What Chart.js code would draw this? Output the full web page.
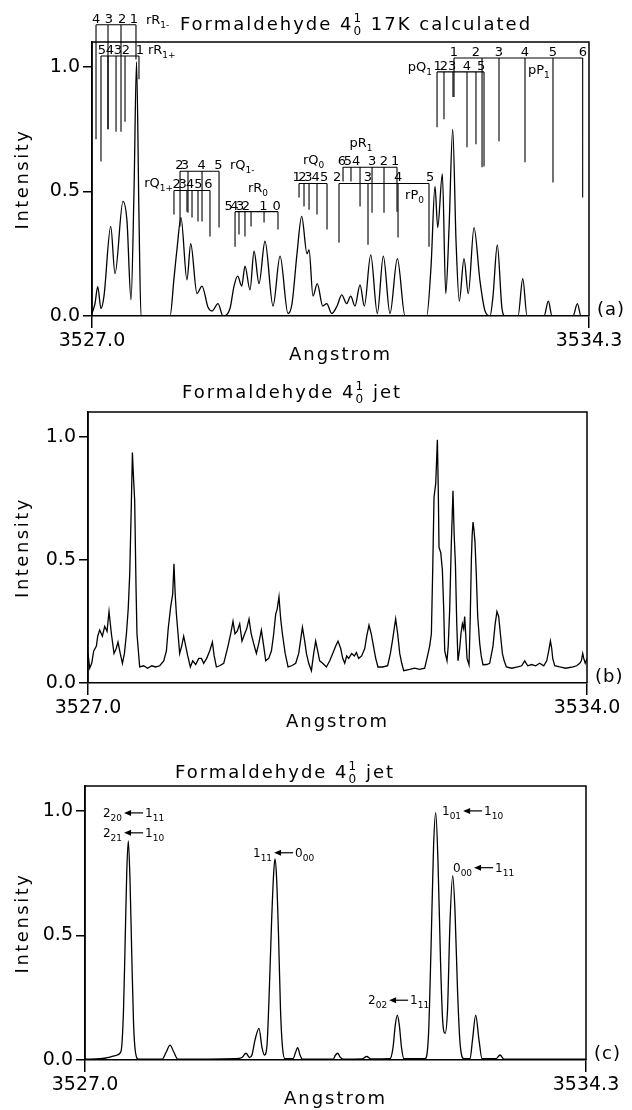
<!DOCTYPE html>
<html lang="en">
<head>
<meta charset="utf-8">
<title>Formaldehyde 4 1 0 spectra</title>
<script src="https://cdn.jsdelivr.net/npm/chart.js@4"></script>
<style>
  html, body { margin: 0; background: #fff; }
  .page { position: relative; width: 632px; height: 1110px; }
  .panel { position: absolute; left: 0; width: 632px; }
</style>
</head>
<body>
<div class="page">
  <div class="panel" style="top:0; height:372px;"><canvas id="calcChart"></canvas></div>
  <div class="panel" style="top:372px; height:378px;"><canvas id="jetChart"></canvas></div>
  <div class="panel" style="top:750px; height:360px;"><canvas id="simChart"></canvas></div>
</div>
<script>
// Axis ranges (Angstrom) and intensity ticks
const calcRange = [3527.0, 3534.3];
const jetRange = [3527.0, 3534.0];
const simRange = [3527.0, 3534.3];
const intensityTicks = [0.0, 0.5, 1.0];

// (a) 17K calculated spectrum
const calcX = [3527.000, 3527.044, 3527.084, 3527.132, 3527.176, 3527.275, 3527.338, 3527.455, 3527.514, 3527.573,
  3527.617, 3527.654, 3527.690, 3527.720, 3528.146, 3528.204, 3528.249, 3528.307, 3528.395, 3528.450,
  3528.542, 3528.616, 3528.704, 3528.763, 3528.851, 3528.924, 3529.027, 3529.086, 3529.140, 3529.199,
  3529.247, 3529.321, 3529.380, 3529.453, 3529.541, 3529.659, 3529.762, 3529.879, 3529.938, 3530.011,
  3530.080, 3530.158, 3530.188, 3530.246, 3530.309, 3530.389, 3530.448, 3530.521, 3530.599, 3530.668,
  3530.741, 3530.800, 3530.863, 3530.937, 3531.000, 3531.094, 3531.191, 3531.279, 3531.377, 3531.485,
  3531.598, 3531.916, 3531.980, 3532.038, 3532.078, 3532.146, 3532.196, 3532.244, 3532.298, 3532.347,
  3532.395, 3532.464, 3532.527, 3532.611, 3532.699, 3532.773, 3532.846, 3532.890, 3532.953, 3533.022,
  3533.067, 3533.258, 3533.327, 3533.390, 3533.639, 3533.703, 3533.757, 3534.065, 3534.129, 3534.183,
  3534.300];
const calcY = [0.01, 0.05, 0.118, 0.03, 0.08, 0.36, 0.17, 0.46, 0.38, 0.065,
  0.5, 1.02, 0.4, 0.0, 0.0, 0.15, 0.27, 0.395, 0.145, 0.29,
  0.09, 0.12, 0.035, 0.02, 0.05, 0.0, 0.03, 0.12, 0.16, 0.12,
  0.2, 0.105, 0.26, 0.13, 0.30, 0.04, 0.24, 0.01, 0.05, 0.25,
  0.40, 0.25, 0.265, 0.08, 0.13, 0.04, 0.05, 0.01, 0.04, 0.085,
  0.05, 0.08, 0.04, 0.125, 0.04, 0.245, 0.01, 0.24, 0.01, 0.23,
  0.0, 0.0, 0.2, 0.52, 0.355, 0.57, 0.09, 0.35, 0.75, 0.3,
  0.06, 0.23, 0.09, 0.355, 0.14, 0.02, 0.0, 0.08, 0.285, 0.03,
  0.0, 0.0, 0.15, 0.0, 0.0, 0.06, 0.0, 0.0, 0.05, 0.0,
  0.0];

// (a) line assignments: stick positions, stick ends, numbers and where the numbers sit
const rR1mPos = [3527.059, 3527.235, 3527.426, 3527.646];
const rR1mEnd = [0.71, 0.75, 0.74, 1.03];
const rR1mNum = ['4', '3', '2', '1'];
const rR1mAt = [3527.059, 3527.249, 3527.441, 3527.617];

const rR1pPos = [3527.132, 3527.235, 3527.353, 3527.485, 3527.690];
const rR1pEnd = [0.62, 0.75, 0.74, 0.78, 0.95];
const rR1pNum = ['5', '4', '3', '2', '1'];
const rR1pAt = [3527.147, 3527.264, 3527.382, 3527.499, 3527.705];

const rQ1pPos = [3528.204, 3528.395, 3528.469, 3528.557, 3528.733];
const rQ1pEnd = [0.407, 0.419, 0.395, 0.379, 0.319];
const rQ1pNum = ['2', '3', '4', '5', '6'];
const rQ1pAt = [3528.244, 3528.332, 3528.440, 3528.561, 3528.708];

const rQ1mPos = [3528.293, 3528.410, 3528.616, 3528.866];
const rQ1mEnd = [0.359, 0.415, 0.379, 0.355];
const rQ1mNum = ['2', '3', '4', '5'];
const rQ1mAt = [3528.283, 3528.366, 3528.611, 3528.856];

const rR0Pos = [3529.101, 3529.159, 3529.247, 3529.336, 3529.527, 3529.732];
const rR0End = [0.278, 0.327, 0.319, 0.359, 0.375, 0.347];
const rR0Num = ['5', '4', '3', '2', '1', '0'];
const rR0At = [3529.008, 3529.090, 3529.174, 3529.262, 3529.516, 3529.712];

const rQ0Pos = [3530.041, 3530.114, 3530.188, 3530.305, 3530.452];
const rQ0End = [0.476, 0.440, 0.427, 0.407, 0.347];
const rQ0Num = ['1', '2', '3', '4', '5'];
const rQ0At = [3530.007, 3530.089, 3530.177, 3530.283, 3530.408];

const pR1Pos = [3530.687, 3530.804, 3530.937, 3531.113, 3531.289, 3531.480];
const pR1End = [0.54, 0.54, 0.44, 0.415, 0.415, 0.419];
const pR1Num = ['6', '5', '4', '3', '2', '1'];
const pR1At = [3530.672, 3530.760, 3530.878, 3531.113, 3531.289, 3531.451];

const rP0Pos = [3530.628, 3531.054, 3531.495, 3531.950];
const rP0End = [0.294, 0.286, 0.315, 0.278];
const rP0Num = ['2', '3', '4', '5'];
const rP0At = [3530.599, 3531.054, 3531.495, 3531.965];

const pQ1Pos = [3532.068, 3532.170, 3532.302, 3532.508, 3532.640, 3532.758];
const pQ1End = [0.758, 0.79, 0.879, 0.677, 0.69, 0.6];
const pQ1Num = ['1', '2', '3', '4', '5'];
const pQ1At = [3532.078, 3532.170, 3532.288, 3532.508, 3532.714];

const pP1Pos = [3532.317, 3532.729, 3532.978, 3533.360, 3533.771, 3534.207];
const pP1End = [0.879, 0.597, 0.702, 0.617, 0.536, 0.476];
const pP1Num = ['1', '2', '3', '4', '5', '6'];
const pP1At = [3532.317, 3532.640, 3532.978, 3533.360, 3533.771, 3534.212];

// (b) jet spectrum
const jetX = [3527.000, 3527.024, 3527.052, 3527.080, 3527.118, 3527.136, 3527.164, 3527.202, 3527.234, 3527.267,
  3527.295, 3527.328, 3527.365, 3527.396, 3527.421, 3527.452, 3527.483, 3527.511, 3527.539, 3527.564,
  3527.585, 3527.606, 3527.623, 3527.634, 3527.655, 3527.673, 3527.687, 3527.725, 3527.781, 3527.837,
  3527.894, 3527.950, 3528.006, 3528.062, 3528.100, 3528.125, 3528.160, 3528.188, 3528.206, 3528.223,
  3528.240, 3528.263, 3528.286, 3528.314, 3528.342, 3528.371, 3528.399, 3528.436, 3528.469, 3528.511,
  3528.553, 3528.591, 3528.623, 3528.665, 3528.707, 3528.745, 3528.770, 3528.801, 3528.847, 3528.904,
  3528.964, 3529.002, 3529.034, 3529.062, 3529.093, 3529.128, 3529.160, 3529.198, 3529.226, 3529.259,
  3529.289, 3529.324, 3529.362, 3529.395, 3529.432, 3529.465, 3529.493, 3529.535, 3529.573, 3529.605,
  3529.633, 3529.654, 3529.679, 3529.703, 3529.727, 3529.766, 3529.806, 3529.857, 3529.914, 3529.956,
  3530.008, 3530.040, 3530.064, 3530.096, 3530.134, 3530.166, 3530.194, 3530.222, 3530.250, 3530.292,
  3530.344, 3530.391, 3530.433, 3530.475, 3530.507, 3530.545, 3530.573, 3530.601, 3530.629, 3530.657,
  3530.699, 3530.737, 3530.765, 3530.797, 3530.839, 3530.882, 3530.910, 3530.942, 3530.973, 3530.998,
  3531.036, 3531.068, 3531.134, 3531.204, 3531.242, 3531.270, 3531.295, 3531.316, 3531.344, 3531.373,
  3531.401, 3531.429, 3531.513, 3531.583, 3531.653, 3531.723, 3531.755, 3531.793, 3531.817, 3531.835,
  3531.854, 3531.878, 3531.901, 3531.913, 3531.924, 3531.948, 3531.971, 3531.990, 3532.004, 3532.036,
  3532.053, 3532.074, 3532.095, 3532.120, 3532.137, 3532.154, 3532.172, 3532.190, 3532.214, 3532.232,
  3532.252, 3532.270, 3532.284, 3532.298, 3532.317, 3532.345, 3532.361, 3532.378, 3532.389, 3532.401,
  3532.415, 3532.429, 3532.446, 3532.467, 3532.495, 3532.516, 3532.541, 3532.593, 3532.635, 3532.681,
  3532.712, 3532.737, 3532.761, 3532.785, 3532.813, 3532.838, 3532.869, 3532.944, 3533.028, 3533.084,
  3533.126, 3533.168, 3533.224, 3533.280, 3533.336, 3533.393, 3533.435, 3533.463, 3533.487, 3533.505,
  3533.519, 3533.547, 3533.617, 3533.701, 3533.804, 3533.855, 3533.898, 3533.921, 3533.940, 3533.954,
  3533.975, 3534.000];
const jetY = [0.12, 0.06, 0.08, 0.13, 0.15, 0.19, 0.215, 0.19, 0.23, 0.21,
  0.29, 0.2, 0.12, 0.14, 0.166, 0.12, 0.08, 0.12, 0.2, 0.3,
  0.44, 0.7, 0.936, 0.86, 0.74, 0.4, 0.2, 0.065, 0.07, 0.06,
  0.07, 0.065, 0.07, 0.09, 0.13, 0.22, 0.31, 0.36, 0.484, 0.36,
  0.28, 0.2, 0.12, 0.15, 0.19, 0.15, 0.11, 0.065, 0.09, 0.075,
  0.1, 0.1, 0.08, 0.1, 0.13, 0.166, 0.11, 0.065, 0.07, 0.08,
  0.15, 0.2, 0.25, 0.2, 0.21, 0.24, 0.17, 0.2, 0.22, 0.26,
  0.2, 0.16, 0.12, 0.16, 0.215, 0.15, 0.09, 0.1, 0.13, 0.2,
  0.28, 0.3, 0.35, 0.26, 0.2, 0.12, 0.065, 0.07, 0.08, 0.12,
  0.226, 0.17, 0.12, 0.08, 0.05, 0.12, 0.17, 0.13, 0.09, 0.08,
  0.065, 0.09, 0.12, 0.15, 0.17, 0.14, 0.1, 0.08, 0.11, 0.1,
  0.12, 0.11, 0.124, 0.1, 0.11, 0.14, 0.19, 0.235, 0.2, 0.16,
  0.1, 0.065, 0.065, 0.07, 0.12, 0.17, 0.22, 0.26, 0.2, 0.12,
  0.08, 0.05, 0.055, 0.06, 0.055, 0.06, 0.1, 0.15, 0.2, 0.45,
  0.754, 0.81, 0.987, 0.8, 0.55, 0.53, 0.46, 0.3, 0.13, 0.09,
  0.15, 0.3, 0.55, 0.78, 0.6, 0.484, 0.25, 0.09, 0.14, 0.2,
  0.24, 0.22, 0.27, 0.2, 0.1, 0.074, 0.25, 0.5, 0.6, 0.653,
  0.62, 0.57, 0.45, 0.27, 0.16, 0.11, 0.074, 0.075, 0.08, 0.15,
  0.24, 0.29, 0.27, 0.2, 0.12, 0.09, 0.065, 0.06, 0.065, 0.07,
  0.09, 0.07, 0.075, 0.07, 0.08, 0.07, 0.09, 0.13, 0.17, 0.14,
  0.1, 0.07, 0.065, 0.06, 0.065, 0.07, 0.08, 0.09, 0.12, 0.1,
  0.08, 0.1];

// (c) jet simulation
const simX = [3527.000, 3527.219, 3527.364, 3527.466, 3527.525, 3527.561, 3527.583, 3527.608, 3527.631, 3527.656,
  3527.680, 3527.707, 3527.736, 3527.780, 3528.122, 3528.180, 3528.239, 3528.297, 3528.355, 3529.186,
  3529.288, 3529.346, 3529.397, 3529.433, 3529.477, 3529.535, 3529.579, 3529.615, 3529.652, 3529.688,
  3529.718, 3529.747, 3529.768, 3529.790, 3529.820, 3529.849, 3529.878, 3529.914, 3530.031, 3530.067,
  3530.099, 3530.133, 3530.169, 3530.614, 3530.650, 3530.682, 3530.716, 3530.759, 3531.036, 3531.105,
  3531.167, 3531.444, 3531.488, 3531.521, 3531.551, 3531.580, 3531.612, 3531.648, 3531.954, 3532.005,
  3532.042, 3532.078, 3532.110, 3532.143, 3532.180, 3532.209, 3532.246, 3532.282, 3532.318, 3532.358,
  3532.391, 3532.428, 3532.464, 3532.522, 3532.610, 3532.646, 3532.693, 3532.741, 3532.785, 3532.989,
  3533.047, 3533.105, 3534.300];
const simY = [0.003, 0.005, 0.012, 0.02, 0.035, 0.2, 0.45, 0.75, 0.88, 0.72,
  0.44, 0.15, 0.03, 0.003, 0.003, 0.03, 0.06, 0.03, 0.003, 0.005,
  0.01, 0.027, 0.01, 0.02, 0.08, 0.127, 0.05, 0.02, 0.06, 0.3,
  0.55, 0.74, 0.807, 0.74, 0.5, 0.2, 0.05, 0.005, 0.005, 0.03,
  0.05, 0.02, 0.003, 0.003, 0.02, 0.027, 0.012, 0.003, 0.004, 0.014,
  0.004, 0.005, 0.05, 0.14, 0.18, 0.14, 0.05, 0.005, 0.005, 0.1,
  0.45, 0.85, 0.993, 0.8, 0.4, 0.17, 0.107, 0.2, 0.55, 0.74,
  0.6, 0.28, 0.07, 0.005, 0.005, 0.08, 0.18, 0.08, 0.005, 0.005,
  0.02, 0.003, 0.003];

// (c) rotational assignments
const simLabelX = [3527.262, 3527.262, 3529.448, 3532.202, 3532.362, 3531.124];
const simLabelY = [0.992, 0.912, 0.832, 1.0, 0.772, 0.24];
const simUpper = [['2', '20'], ['2', '21'], ['1', '11'], ['1', '01'], ['0', '00'], ['2', '02']];
const simLower = [['1', '11'], ['1', '10'], ['0', '00'], ['1', '10'], ['1', '11'], ['1', '11']];

const INK = '#000';
const FONT = '"DejaVu Sans", sans-serif';

function setFont(ctx, size, spacing) {
  ctx.font = size + 'px ' + FONT;
  if ('letterSpacing' in ctx) ctx.letterSpacing = (spacing || 0) + 'px';
}

// main text followed by a lowered subscript, returns the width used
function subText(ctx, x, base, main, sub, size, subSize, draw) {
  setFont(ctx, size);
  const w = ctx.measureText(main).width;
  if (draw) ctx.fillText(main, x, base);
  setFont(ctx, subSize);
  if (draw) ctx.fillText(sub, x + w, base + Math.round(subSize * 0.4));
  return w + ctx.measureText(sub).width;
}

// frame, titles, axis names and panel tag
function framePlugin(cfg) {
  return {
    id: 'frame',
    afterDraw(chart) {
      const { ctx, chartArea: a } = chart;
      ctx.save();
      ctx.strokeStyle = INK;
      ctx.fillStyle = INK;
      ctx.lineWidth = 1.5;
      ctx.beginPath();
      ctx.moveTo(a.left, a.bottom);
      ctx.lineTo(a.left, a.top);
      ctx.lineTo(a.right, a.top);
      ctx.lineTo(a.right, a.bottom);
      ctx.stroke();

      ctx.textBaseline = 'alphabetic';
      ctx.textAlign = 'left';
      setFont(ctx, 18, 2);
      const w1 = ctx.measureText(cfg.title[0]).width;
      const w3 = ctx.measureText(cfg.title[3]).width;
      setFont(ctx, 12, 0);
      const w2 = Math.max(ctx.measureText(cfg.title[1]).width, ctx.measureText(cfg.title[2]).width) + 2;
      let tx = cfg.titleX - (w1 + w2 + w3) / 2;
      setFont(ctx, 18, 2);
      ctx.fillText(cfg.title[0], tx, cfg.titleY);
      tx += w1;
      setFont(ctx, 12, 0);
      ctx.fillText(cfg.title[1], tx, cfg.titleY - 8);
      ctx.fillText(cfg.title[2], tx, cfg.titleY + 5);
      tx += w2;
      setFont(ctx, 18, 2);
      ctx.fillText(cfg.title[3], tx, cfg.titleY);

      ctx.textAlign = 'center';
      setFont(ctx, 18, 2);
      ctx.fillText('Angstrom', (a.left + a.right) / 2, a.bottom + 44);
      ctx.save();
      ctx.translate(28, (a.top + a.bottom) / 2);
      ctx.rotate(-Math.PI / 2);
      setFont(ctx, 18, 2.5);
      ctx.fillText('Intensity', 0, 0);
      ctx.restore();

      setFont(ctx, 18, 1);
      ctx.textAlign = 'left';
      ctx.textBaseline = 'middle';
      ctx.fillText(cfg.tag, a.right + 8, a.bottom - 6);
      ctx.restore();
    }
  };
}

// bracket groups of panel (a)
const calcGroups = [
  { pos: rR1mPos, end: rR1mEnd, num: rR1mNum, at: rR1mAt, bar: 1.169, name: ['rR', '1-'], nx: 3527.793, ny: 1.194, align: 'left' },
  { pos: rR1pPos, end: rR1pEnd, num: rR1pNum, at: rR1pAt, bar: 1.044, name: ['rR', '1+'], nx: 3527.822, ny: 1.073, align: 'left' },
  { pos: rQ1pPos, end: rQ1pEnd, num: rQ1pNum, at: rQ1pAt, bar: 0.504, name: ['rQ', '1+'], nx: 3528.190, ny: 0.536, align: 'right' },
  { pos: rQ1mPos, end: rQ1mEnd, num: rQ1mNum, at: rQ1mAt, bar: 0.581, name: ['rQ', '1-'], nx: 3529.027, ny: 0.609, align: 'left' },
  { pos: rR0Pos, end: rR0End, num: rR0Num, at: rR0At, bar: 0.419, name: ['rR', '0'], nx: 3529.438, ny: 0.516, align: 'center' },
  { pos: rQ0Pos, end: rQ0End, num: rQ0Num, at: rQ0At, bar: 0.532, name: ['rQ', '0'], nx: 3530.099, ny: 0.629, align: 'left' },
  { pos: pR1Pos, end: pR1End, num: pR1Num, at: pR1At, bar: 0.597, name: ['pR', '1'], nx: 3530.951, ny: 0.698, align: 'center' },
  { pos: rP0Pos, end: rP0End, num: rP0Num, at: rP0At, bar: 0.532, name: ['rP', '0'], nx: 3531.598, ny: 0.488, align: 'left' },
  { pos: pQ1Pos, end: pQ1End, num: pQ1Num, at: pQ1At, bar: 0.980, name: ['pQ', '1'], nx: 3531.994, ny: 1.004, align: 'right' },
  { pos: pP1Pos, end: pP1End, num: pP1Num, at: pP1At, bar: 1.036, name: ['pP', '1'], nx: 3533.404, ny: 0.992, align: 'left' }
];

const assignPlugin = {
  id: 'assign',
  afterDatasetsDraw(chart) {
    const { ctx, scales: { x, y } } = chart;
    ctx.save();
    ctx.strokeStyle = INK;
    ctx.fillStyle = INK;
    ctx.lineWidth = 1.1;
    calcGroups.forEach(g => {
      const barY = y.getPixelForValue(g.bar);
      const xs = g.pos.map(v => x.getPixelForValue(v));
      ctx.beginPath();
      ctx.moveTo(Math.min(...xs), barY);
      ctx.lineTo(Math.max(...xs), barY);
      xs.forEach((px, i) => {
        ctx.moveTo(px, barY);
        ctx.lineTo(px, y.getPixelForValue(g.end[i]));
      });
      ctx.stroke();

      setFont(ctx, 13, 0);
      ctx.textAlign = 'center';
      ctx.textBaseline = 'alphabetic';
      g.num.forEach((t, i) => ctx.fillText(t, x.getPixelForValue(g.at[i]), barY - 2));

      ctx.textAlign = 'left';
      const w = subText(ctx, 0, 0, g.name[0], g.name[1], 13, 9, false);
      let nx = x.getPixelForValue(g.nx);
      if (g.align === 'right') nx -= w;
      if (g.align === 'center') nx -= w / 2;
      subText(ctx, nx, y.getPixelForValue(g.ny) + 5, g.name[0], g.name[1], 13, 9, true);
    });
    ctx.restore();
  }
};

// transition labels of panel (c)
const simLabelPlugin = {
  id: 'simLabels',
  afterDatasetsDraw(chart) {
    const { ctx, scales: { x, y } } = chart;
    ctx.save();
    ctx.fillStyle = INK;
    ctx.strokeStyle = INK;
    ctx.lineWidth = 1.2;
    ctx.textAlign = 'left';
    ctx.textBaseline = 'alphabetic';
    simLabelX.forEach((v, i) => {
      let cx = x.getPixelForValue(v);
      const mid = y.getPixelForValue(simLabelY[i]);
      cx += subText(ctx, cx, mid + 4, simUpper[i][0], simUpper[i][1], 12, 9, true) + 2;
      ctx.beginPath();
      ctx.moveTo(cx, mid);
      ctx.lineTo(cx + 7, mid - 3);
      ctx.lineTo(cx + 7, mid + 3);
      ctx.closePath();
      ctx.fill();
      ctx.beginPath();
      ctx.moveTo(cx + 6, mid);
      ctx.lineTo(cx + 19, mid);
      ctx.stroke();
      cx += 21;
      subText(ctx, cx, mid + 4, simLower[i][0], simLower[i][1], 12, 9, true);
    });
    ctx.restore();
  }
};

function makeChart(id, xs, ys, range, box, smooth, cfg, extra) {
  const tickFont = { family: FONT, size: 19 };
  return new Chart(document.getElementById(id), {
    type: 'line',
    data: {
      datasets: [{
        data: xs.map((v, i) => ({ x: v, y: ys[i] })),
        borderColor: INK,
        borderWidth: 1.3,
        pointRadius: 0,
        fill: false,
        tension: 0,
        cubicInterpolationMode: smooth ? 'monotone' : 'default'
      }]
    },
    options: {
      responsive: true,
      maintainAspectRatio: false,
      animation: false,
      events: [],
      layout: { padding: { left: 0, right: box.right, top: box.top, bottom: 0 } },
      plugins: { legend: { display: false }, tooltip: { enabled: false } },
      scales: {
        x: {
          type: 'linear',
          min: range[0],
          max: range[1],
          afterBuildTicks: s => { s.ticks = range.map(v => ({ value: v })); },
          afterFit: s => { s.height = box.xh; },
          ticks: { callback: v => Number(v).toFixed(1), font: tickFont, color: INK, maxRotation: 0, autoSkip: false, padding: 2 },
          grid: { drawOnChartArea: false, drawTicks: true, tickLength: 12, color: INK, lineWidth: 1.5 },
          border: { display: true, color: INK, width: 1.5 }
        },
        y: {
          type: 'linear',
          min: 0,
          max: 1.1,
          afterBuildTicks: s => { s.ticks = intensityTicks.map(v => ({ value: v })); },
          afterFit: s => { s.width = box.left; },
          ticks: { callback: v => Number(v).toFixed(1), font: tickFont, color: INK, padding: 3 },
          grid: { drawOnChartArea: false, drawTicks: true, tickLength: 9, color: INK, lineWidth: 1.5 },
          border: { display: true, color: INK, width: 1.5 }
        }
      }
    },
    plugins: [framePlugin(cfg)].concat(extra)
  });
}

makeChart('calcChart', calcX, calcY, calcRange, { left: 92, right: 43, top: 42, xh: 56 }, true,
  { title: ['Formaldehyde 4', '1', '0', ' 17K calculated'], titleX: 356, titleY: 30, tag: '(a)' }, [assignPlugin]);
makeChart('jetChart', jetX, jetY, jetRange, { left: 88, right: 45, top: 40, xh: 67 }, false,
  { title: ['Formaldehyde 4', '1', '0', ' jet'], titleX: 292, titleY: 26, tag: '(b)' }, []);
makeChart('simChart', simX, simY, simRange, { left: 85, right: 46, top: 36, xh: 50 }, true,
  { title: ['Formaldehyde 4', '1', '0', ' jet'], titleX: 285, titleY: 28, tag: '(c)' }, [simLabelPlugin]);
</script>
</body>
</html>
